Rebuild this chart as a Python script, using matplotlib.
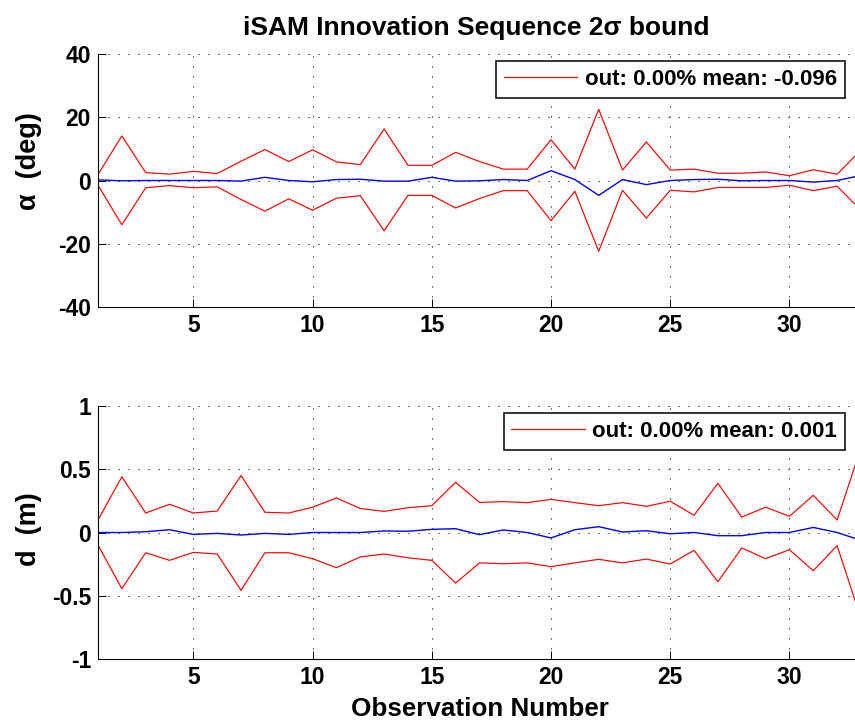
"""
iSAM innovation sequence with 2-sigma bounds (alpha and d), two stacked panels.
Saved to out.png
"""
import numpy as np
import matplotlib
matplotlib.use("Agg")
import matplotlib.pyplot as plt

plt.rcParams["font.family"] = ["Liberation Sans", "DejaVu Sans"]
plt.rcParams["font.weight"] = "bold"
plt.rcParams["axes.unicode_minus"] = False
plt.rcParams["lines.scale_dashes"] = False

TITLE = "iSAM Innovation Sequence 2σ bound"
XLAB = "Observation Number"
obs = np.arange(1, 34)

# alpha innovation (deg)
alpha_hi = [1.9, 14.1, 2.5, 2.0, 2.9, 2.2, 6.1, 9.8, 6.0, 9.7, 5.9, 5.0, 16.3, 4.8, 4.8, 8.9, 6.0,
            3.6, 3.6, 12.9, 3.6, 22.5, 3.3, 12.2, 3.3, 3.6, 2.3, 2.3, 2.7, 1.5, 3.4, 2.0, 9.6]
alpha_lo = [-1.5, -14.0, -2.3, -1.6, -2.3, -2.0, -6.0, -9.7, -5.8, -9.4, -5.6, -4.8, -15.9, -4.7, -4.7, -8.7, -5.7,
            -3.2, -3.2, -12.7, -3.4, -22.4, -3.1, -11.9, -3.1, -3.6, -2.2, -2.2, -2.2, -1.5, -3.2, -1.8, -9.4]
alpha_res = [0.2, -0.1, 0.0, 0.0, 0.0, 0.0, -0.2, 1.0, 0.0, -0.4, 0.3, 0.4, -0.2, -0.2, 1.0, -0.2, -0.1,
             0.3, 0.0, 3.1, 0.3, -4.7, 0.3, -1.3, 0.0, 0.3, 0.4, -0.1, 0.0, 0.0, -0.5, 0.0, 1.6]

# d innovation (m)
d_hi = [0.099, 0.44, 0.154, 0.223, 0.154, 0.17, 0.45, 0.16, 0.154, 0.2, 0.273, 0.19, 0.167, 0.196, 0.212, 0.397, 0.238,
        0.244, 0.236, 0.262, 0.236, 0.212, 0.236, 0.207, 0.247, 0.136, 0.389, 0.122, 0.2, 0.128, 0.294, 0.099, 0.67]
d_lo = [-0.099, -0.444, -0.16, -0.22, -0.157, -0.17, -0.457, -0.16, -0.16, -0.207, -0.278, -0.193, -0.17, -0.2, -0.22,
        -0.4, -0.24, -0.247, -0.24, -0.27, -0.24, -0.212, -0.24, -0.21, -0.249, -0.141, -0.389, -0.122, -0.207,
        -0.136, -0.302, -0.104, -0.68]
d_res = [0.0, 0.0, 0.006, 0.022, -0.015, -0.007, -0.02, -0.007, -0.015, 0.0, 0.0, 0.0, 0.012, 0.01, 0.025, 0.03,
         -0.017, 0.02, 0.0, -0.043, 0.022, 0.046, 0.004, 0.014, -0.01, 0.0, -0.025, -0.025, 0.0, 0.0, 0.04, 0.0, -0.062]

PANELS = [
    dict(hi=alpha_hi, lo=alpha_lo, res=alpha_res, ylab="α  (deg)", leg="out: 0.00% mean: -0.096",
         yl=(-40, 40), yt=[-40, -20, 0, 20, 40], ytl=["-40", "-20", "0", "20", "40"], labely=0.575),
    dict(hi=d_hi, lo=d_lo, res=d_res, ylab="d  (m)", leg="out: 0.00% mean: 0.001",
         yl=(-1, 1), yt=[-1, -0.5, 0, 0.5, 1], ytl=["-1", "-0.5", "0", "0.5", "1"], labely=0.514),
]

W, H = 855, 724
fig = plt.figure(figsize=(W / 100, H / 100), dpi=100)
tops = [54, 406]
for i, (p, top) in enumerate(zip(PANELS, tops)):
    ax = fig.add_axes([98 / W, 1 - (top + 253) / H, 1 - 98 / W, 253 / H])
    hl, = ax.plot(obs, p["hi"], color="#ff0000", lw=0.85)
    ax.plot(obs, p["lo"], color="#ff0000", lw=0.85)
    ax.plot(obs, p["res"], color="#0000ff", lw=1.0)
    ax.set_xlim(1, 32.75); ax.set_ylim(*p["yl"])
    ax.set_xticks([5, 10, 15, 20, 25, 30])
    ax.set_yticks(p["yt"]); ax.set_yticklabels(p["ytl"])
    ax.tick_params(direction="in", length=5.5, width=0.7, labelsize=16.5, pad=5)
    ax.grid(True, color="k", lw=0.7, linestyle=(0, (0.8, 6.4)))
    for s in ("top", "right"):
        ax.spines[s].set_visible(False)
    for s in ("left", "bottom"):
        ax.spines[s].set_linewidth(0.8)
    ax.set_ylabel(p["ylab"], fontsize=19.5, fontweight="bold")
    ax.yaxis.set_label_coords(-0.074, p["labely"])
    leg = ax.legend([hl], [p["leg"]], loc="upper right", bbox_to_anchor=(845 / W, 1 - (top + 7) / H),
                    bbox_transform=fig.transFigure, borderaxespad=0, fancybox=False, framealpha=1,
                    edgecolor="k", fontsize=16, handlelength=3.3, handletextpad=0.35, borderpad=0.35)
    leg.get_frame().set_linewidth(1.1)
    if i == 0:
        ax.set_title(TITLE, fontsize=19, fontweight="bold", pad=14)
    else:
        ax.set_xlabel(XLAB, fontsize=18.7, fontweight="bold")
        ax.xaxis.set_label_coords(0.505, -0.150)

fig.savefig("out.png", dpi=100)
